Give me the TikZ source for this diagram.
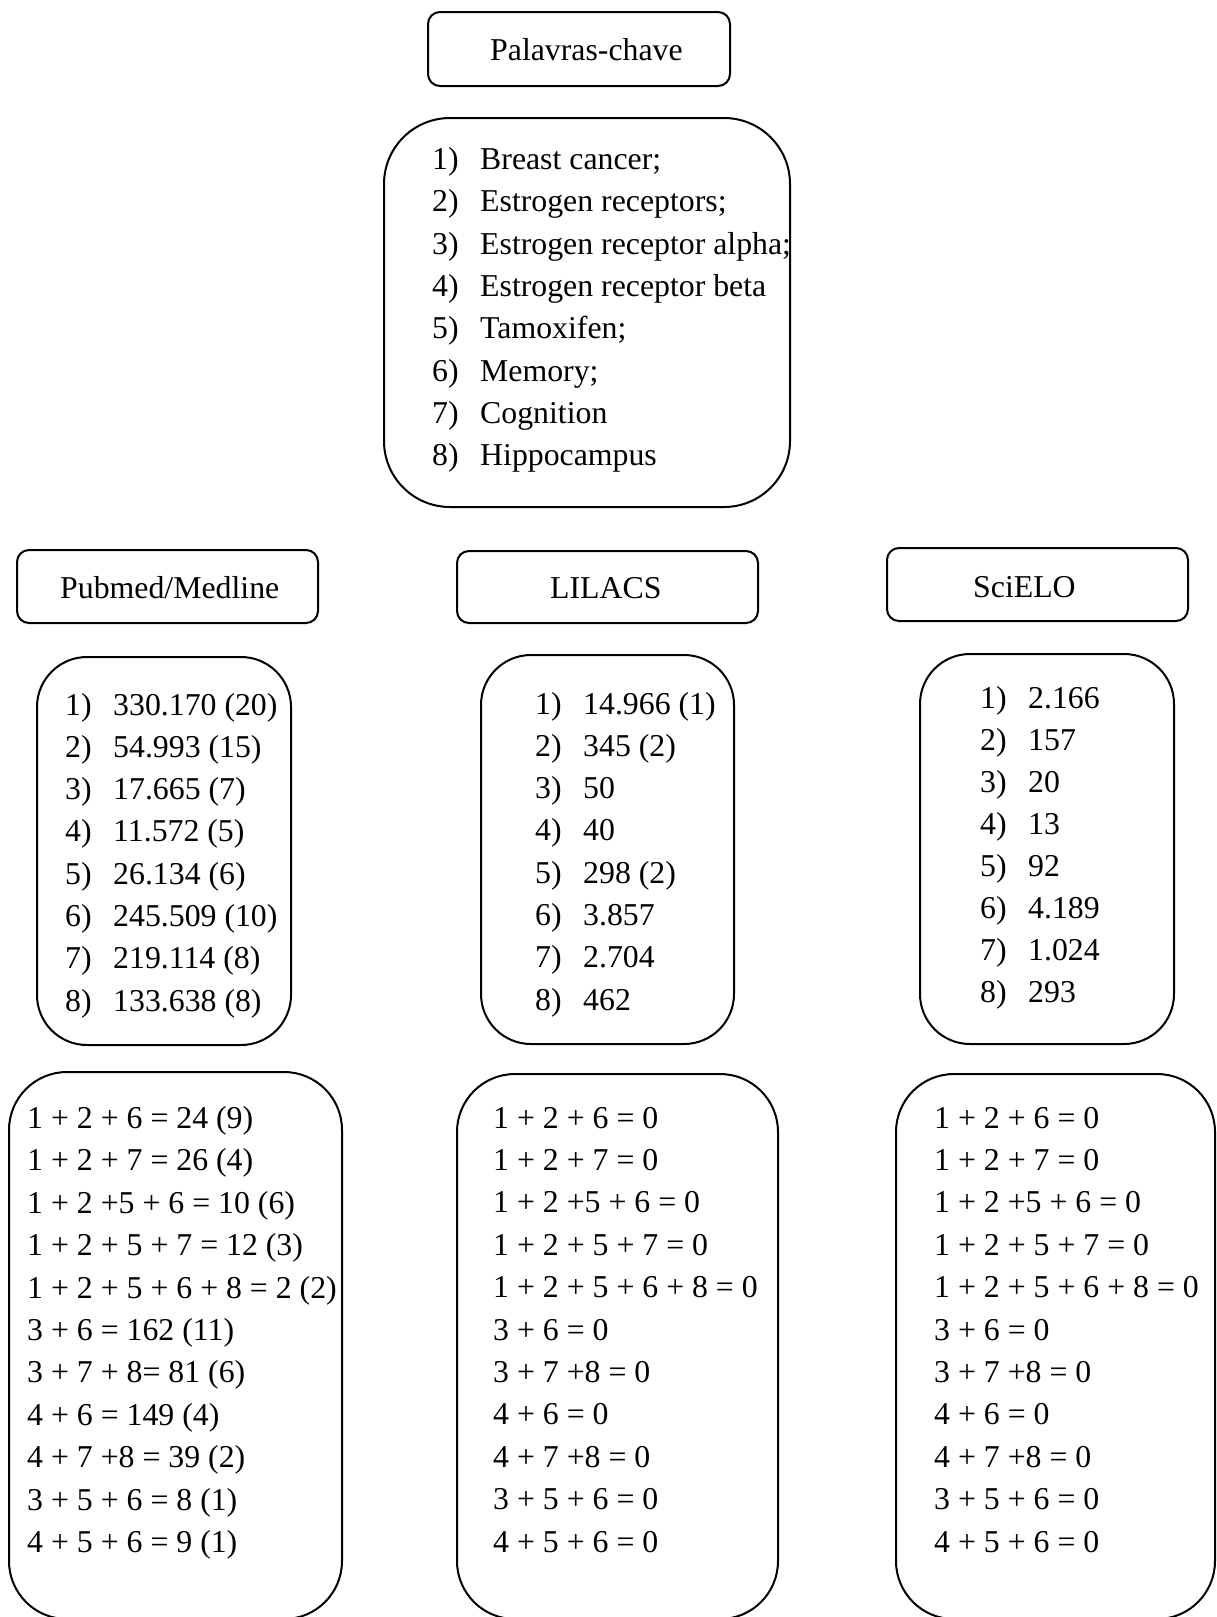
\documentclass[tikz,border=0pt]{standalone}
\usepackage{fontspec}
\setmainfont{Liberation Serif}
\tikzset{
  caixa/.style={line width=2pt, rounded corners=12pt},
  txt/.style={anchor=base west, inner sep=0pt, font=\fontsize{31.8}{38}\selectfont},
}
\newcommand\zerolist{1 + 2 + 6 = 0, 1 + 2 + 7 = 0, 1 + 2 +5 + 6 = 0, 1 + 2 + 5 + 7 = 0,
  1 + 2 + 5 + 6 + 8 = 0, 3 + 6 = 0, 3 + 7 +8 = 0, 4 + 6 = 0, 4 + 7 +8 = 0,
  3 + 5 + 6 = 0, 4 + 5 + 6 = 0}
\begin{document}
\begin{tikzpicture}[x=1pt,y=-1pt]
   \useasboundingbox (0,0) rectangle (1217,1617);
   % 見出し
   \draw[caixa] (428,12) rectangle (730,86);
   \node (pal) [txt] at (490,60) {Palavras-chave};

   % キーワード
   \draw[caixa, rounded corners=66pt] (384,118) rectangle (790,507);
   \foreach \t [count=\i] in {Breast cancer;, Estrogen receptors;, Estrogen receptor alpha;,
       Estrogen receptor beta, Tamoxifen;, Memory;, Cognition, Hippocampus}
   {
     \node (kn\i) [txt] at (432,{169.5+42.3*(\i-1)}) {\i)};
     \node (kw\i) [txt] at (480,{169.5+42.3*(\i-1)}) {\t};
   }

   % データベース
   \draw[caixa] (17,550) rectangle (318,623);
   \node (pub) [txt] at (60,598) {Pubmed/Medline};
   \draw[caixa] (457,551) rectangle (758,623);
   \node (lil) [txt] at (550,598) {LILACS};
   \draw[caixa] (887,548) rectangle (1188,621);
   \node (sci) [txt] at (973,597) {SciELO};

   % 件数
   \draw[caixa, rounded corners=50pt] (37,657) rectangle (291,1045);
   \foreach \t [count=\i] in {330.170 (20), 54.993 (15), 17.665 (7), 11.572 (5),
       26.134 (6), 245.509 (10), 219.114 (8), 133.638 (8)}
   {
     \node (pn\i) [txt] at (65,{715+42.3*(\i-1)}) {\i)};
     \node (pv\i) [txt] at (113,{715+42.3*(\i-1)}) {\t};
   }
   \draw[caixa, rounded corners=50pt] (481,655) rectangle (734,1044);
   \foreach \t [count=\i] in {14.966 (1), 345 (2), 50, 40, 298 (2), 3.857, 2.704, 462}
   {
     \node (ln\i) [txt] at (535,{714+42.3*(\i-1)}) {\i)};
     \node (lv\i) [txt] at (583,{714+42.3*(\i-1)}) {\t};
   }
   \draw[caixa, rounded corners=50pt] (920,654) rectangle (1174,1044);
   \foreach \t [count=\i] in {2.166, 157, 20, 13, 92, 4.189, 1.024, 293}
   {
     \node (sn\i) [txt] at (980,{708+42.1*(\i-1)}) {\i)};
     \node (sv\i) [txt] at (1028,{708+42.1*(\i-1)}) {\t};
   }

   % 組み合わせ
   \draw[caixa, rounded corners=58pt] (9,1072) rectangle (342,1619);
   \foreach \t [count=\i] in {1 + 2 + 6 = 24 (9), 1 + 2 + 7 = 26 (4), 1 + 2 +5 + 6 = 10 (6),
       1 + 2 + 5 + 7 = 12 (3), 1 + 2 + 5 + 6 + 8 = 2 (2), 3 + 6 = 162 (11),
       3 + 7 + 8= 81 (6), 4 + 6 = 149 (4), 4 + 7 +8 = 39 (2), 3 + 5 + 6 = 8 (1),
       4 + 5 + 6 = 9 (1)}
     \node (pc\i) [txt] at (27,{1128.5+42.4*(\i-1)}) {\t};
   \draw[caixa, rounded corners=58pt] (457,1074) rectangle (778,1619);
   \foreach \t [count=\i] in \zerolist
     \node (lc\i) [txt] at (493,{1128+42.4*(\i-1)}) {\t};
   \draw[caixa, rounded corners=58pt] (896,1074) rectangle (1215,1619);
   \foreach \t [count=\i] in \zerolist
     \node (sc\i) [txt] at (934,{1128+42.4*(\i-1)}) {\t};

\end{tikzpicture}
\end{document}
